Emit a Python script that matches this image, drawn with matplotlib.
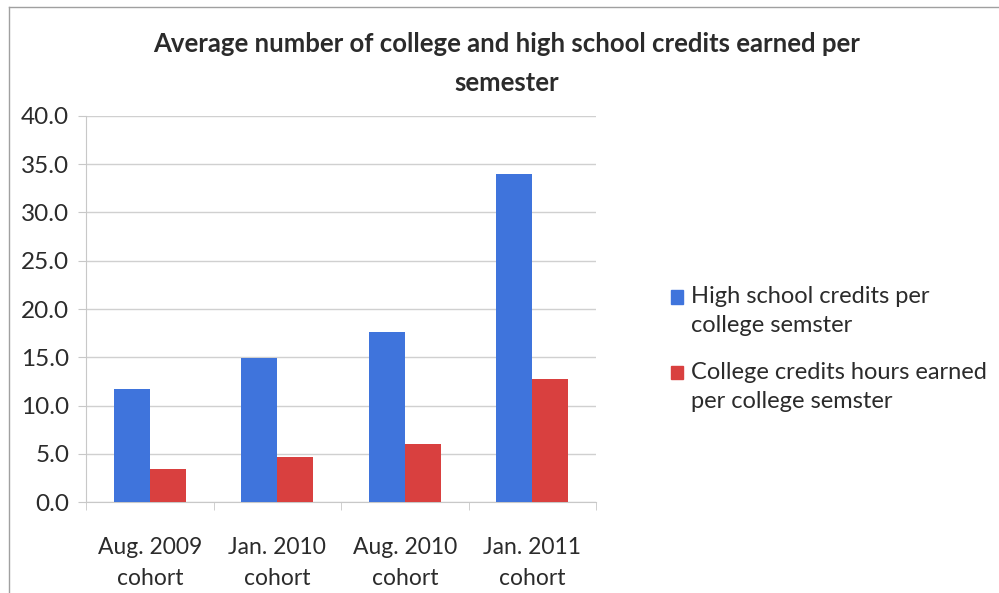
import numpy as np
import matplotlib.pyplot as plt
from matplotlib.patches import Rectangle
from matplotlib.lines import Line2D
from matplotlib.legend_handler import HandlerPatch

plt.rcParams['font.family'] = ['Lato', 'DejaVu Sans']

cohorts = ["Aug. 2009\ncohort", "Jan. 2010\ncohort", "Aug. 2010\ncohort", "Jan. 2011\ncohort"]
hs_credits = [11.7, 14.9, 17.6, 34.0]
college_credits = [3.4, 4.7, 6.0, 12.8]
labels = ["High school credits per\ncollege semster",
          "College credits hours earned\nper college semster"]
yticks = [0, 5, 10, 15, 20, 25, 30, 35, 40]

blue = "#3f74dc"
red = "#d9403f"
grey = "#c8c8c8"
txt = "#2b2b2b"

fig = plt.figure(figsize=(9.99, 5.93), dpi=100)
ax = fig.add_axes([86 / 999, 1 - 502.3 / 593, 510 / 999, 386.6 / 593])

x = np.arange(len(cohorts))
w = 0.283
ax.bar(x - w / 2, hs_credits, w, color=blue, label=labels[0], zorder=3)
ax.bar(x + w / 2, college_credits, w, color=red, label=labels[1], zorder=3)

ax.set_xlim(-0.5, len(cohorts) - 0.5)
ax.set_ylim(0, 40)
ax.set_yticks(yticks)
ax.set_yticklabels([f"{v:.1f}" for v in yticks], fontsize=17.5, color=txt)
ax.yaxis.grid(True, color="#d0d0d0", linewidth=1, zorder=0)
ax.set_axisbelow(True)

# category labels centred, tick marks on the boundaries
ax.set_xticks(x)
ax.set_xticklabels(cohorts, fontsize=16.5, color=txt, linespacing=1.6)
ax.tick_params(axis='x', length=0, pad=25)
ax.set_xticks(np.arange(-0.5, len(cohorts)), minor=True)
ax.tick_params(axis='x', which='minor', length=6, color=grey, direction='out')
ax.tick_params(axis='y', length=6, color=grey, pad=6)

for s in ["top", "right"]:
    ax.spines[s].set_visible(False)
for s in ["left", "bottom"]:
    ax.spines[s].set_color(grey)

ax.set_title("Average number of college and high school credits earned per\nsemester",
             fontsize=18.5, fontweight='bold', color=txt, linespacing=1.75,
             x=(507 - 86) / 510, pad=18)


# legend square sits beside the first text line, like Excel does
def top_square(legend, orig_handle, xdescent, ydescent, width, height, fontsize):
    return Rectangle((-xdescent, -ydescent + 0.6 * fontsize), width, height)


leg = fig.legend(handles=[Rectangle((0, 0), 1, 1, color=blue), Rectangle((0, 0), 1, 1, color=red)],
                 labels=labels, loc='upper left', bbox_to_anchor=(650 / 999, 1 - 265 / 593),
                 frameon=False, fontsize=17, handlelength=0.48, handleheight=0.48,
                 handletextpad=0.35, labelspacing=1.1, labelcolor=txt,
                 handler_map={Rectangle: HandlerPatch(patch_func=top_square)})
for t in leg.get_texts():
    t.set_linespacing(1.45)

# outer chart border (top and left edges visible)
fig.add_artist(Line2D([9 / 999, 1], [1 - 7 / 593, 1 - 7 / 593], color="#a0a0a0", linewidth=1))
fig.add_artist(Line2D([9 / 999, 9 / 999], [0, 1 - 7 / 593], color="#a0a0a0", linewidth=1))

fig.savefig("out.png", dpi=100)
